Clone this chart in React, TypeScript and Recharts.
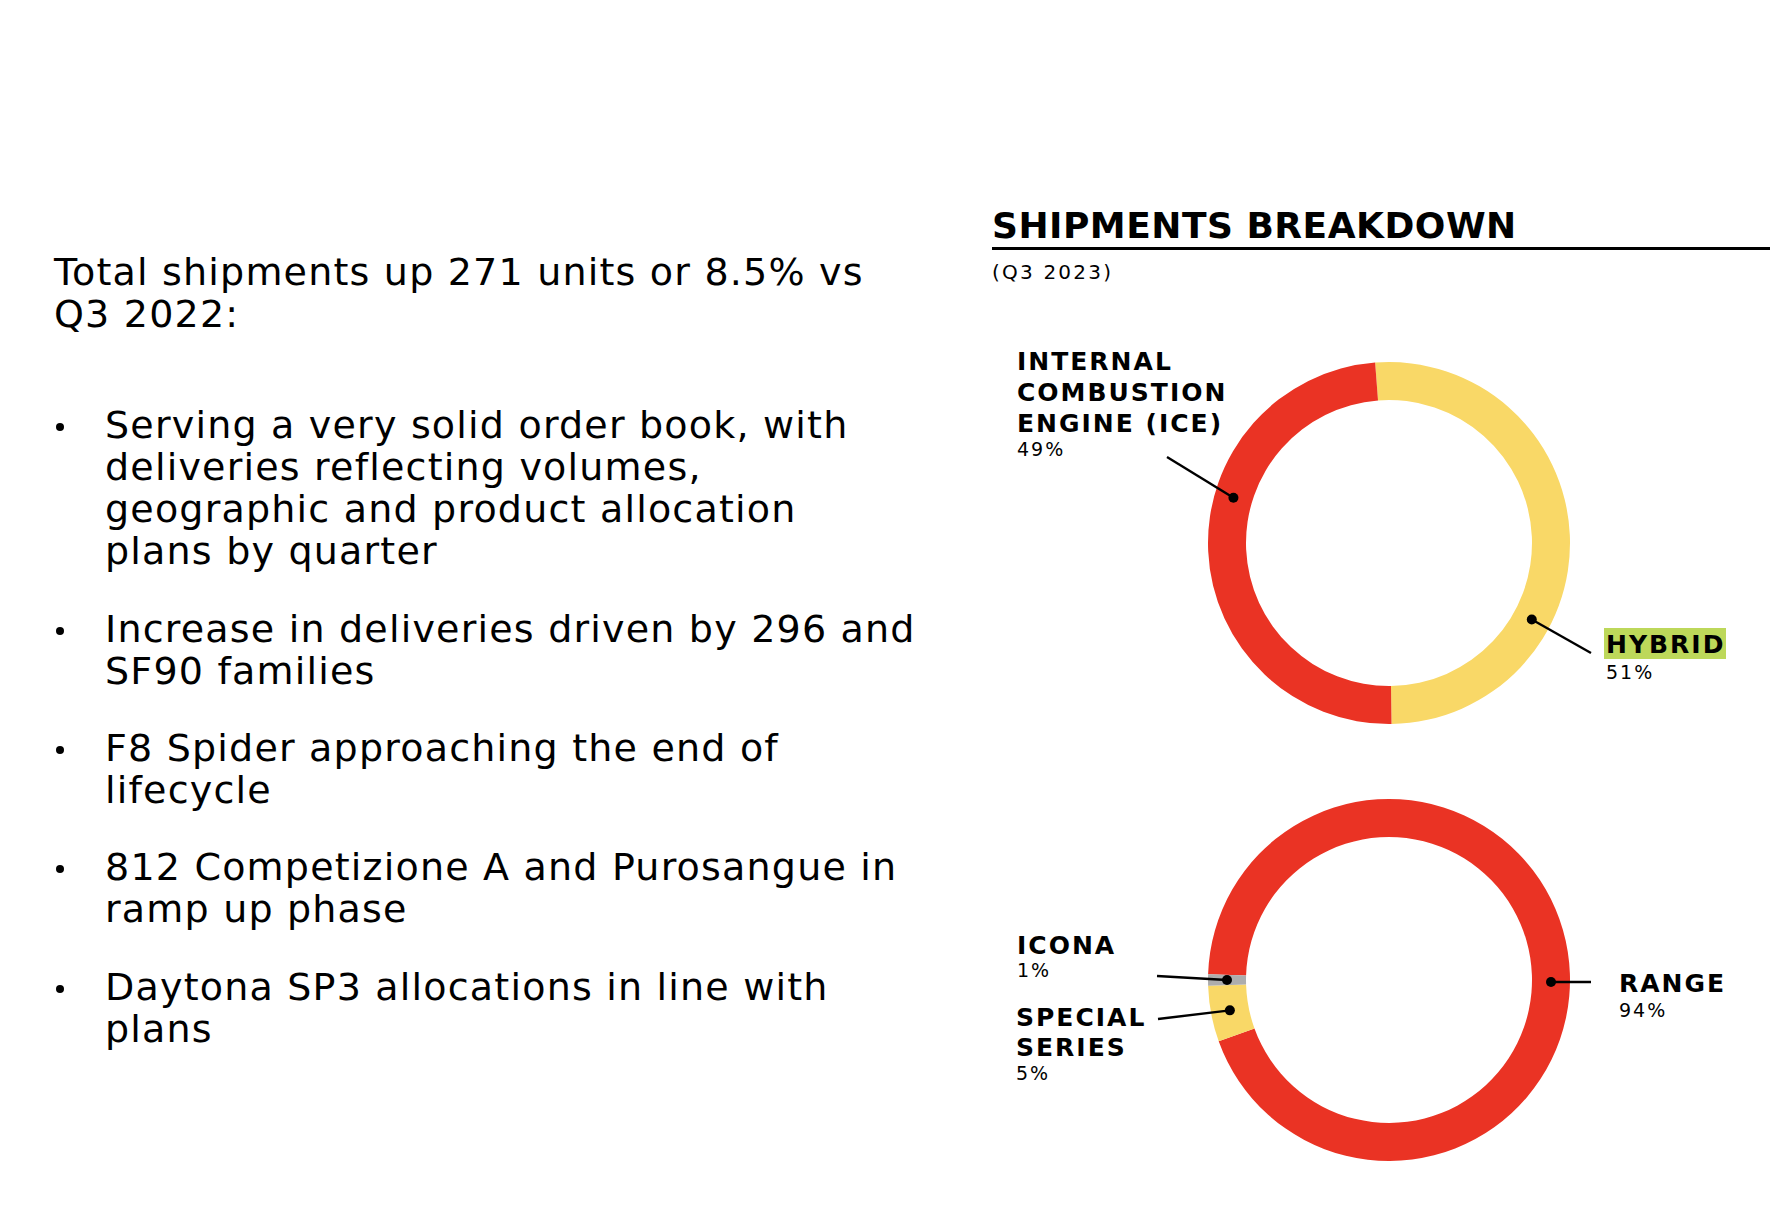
import React from 'react';
import { PieChart, Pie, Cell } from 'recharts';

// shares in % (Q3 2023)
const powertrainNames = ['HYBRID', 'INTERNAL\nCOMBUSTION\nENGINE (ICE)'];
const powertrainShares = [51, 49];
const powertrainColors = ['#F9D867', '#EA3324'];

const rangeNames = ['RANGE', 'SPECIAL\nSERIES', 'ICONA'];
const rangeShares = [94, 5, 1];
const rangeColors = ['#EA3324', '#F9D867', '#ADADAD'];

const title = 'SHIPMENTS BREAKDOWN';
const subtitle = '(Q3 2023)';

const introLines = ['Total shipments up 271 units or 8.5% vs', 'Q3 2022:'];
const bullets = [
  ['Serving a very solid order book, with', 'deliveries reflecting volumes,', 'geographic and product allocation', 'plans by quarter'],
  ['Increase in deliveries driven by 296 and', 'SF90 families'],
  ['F8 Spider approaching the end of', 'lifecycle'],
  ['812 Competizione A and Purosangue in', 'ramp up phase'],
  ['Daytona SP3 allocations in line with', 'plans'],
];

// layout only
const bulletTops = [404, 608, 727, 846, 966];
const FONT = '"DejaVu Sans", sans-serif';
const RAD = Math.PI / 180;

// offsets from the pie centre for each callout
const labelLayout = {
  HYBRID: { angle: -28.2, end: [202, 110], tx: 217, ty: 109.5, gap: 31, py: 135.5, box: [215, 85, 122, 31] },
  'INTERNAL\nCOMBUSTION\nENGINE (ICE)': { angle: 163.8, end: [-222, -86], tx: -372, ty: -173, gap: 31, py: -87.5 },
  RANGE: { angle: -0.7, end: [202, 2], tx: 230, ty: 12, gap: 30, py: 36.5 },
  'SPECIAL\nSERIES': { end: [-231, 39], tx: -373, ty: 46, gap: 30, py: 99.5 },
  ICONA: { end: [-232, -4], tx: -372, ty: -26, gap: 30, py: -3.5 },
};

const makeLabel = (names, shares) => (props) => {
  const { cx, cy, innerRadius, outerRadius, midAngle, index } = props;
  const name = names[index];
  const lay = labelLayout[name];
  const a = (lay.angle ?? midAngle) * RAD;
  const r = (innerRadius + outerRadius) / 2;
  const dx = cx + r * Math.cos(a);
  const dy = cy - r * Math.sin(a);
  const lines = name.split('\n');
  return (
    <g key={name}>
      <line x1={dx} y1={dy} x2={cx + lay.end[0]} y2={cy + lay.end[1]} stroke="#000" strokeWidth={2.4} />
      <circle cx={dx} cy={dy} r={5} fill="#000" />
      {lay.box && (
        <rect x={cx + lay.box[0]} y={cy + lay.box[1]} width={lay.box[2]} height={lay.box[3]} fill="#BDD85A" />
      )}
      {lines.map((l, i) => (
        <text key={l} x={cx + lay.tx} y={cy + lay.ty + i * lay.gap} fontFamily={FONT} fontSize={25}
              fontWeight={700} letterSpacing={2} fill="#000">{l}</text>
      ))}
      <text x={cx + lay.tx} y={cy + lay.py} fontFamily={FONT} fontSize={19} letterSpacing={2} fill="#000">
        {shares[index] + '%'}
      </text>
    </g>
  );
};

const powertrainData = powertrainNames.map((name, i) => ({ name, value: powertrainShares[i] }));
const rangeData = rangeNames.map((name, i) => ({ name, value: rangeShares[i] }));

export default function App() {
  return (
    <div style={{ position: 'absolute', left: 0, top: 0, width: 1770, height: 1226, background: '#fff',
                  overflow: 'hidden', fontFamily: FONT, color: '#000' }}>
      <div style={{ position: 'absolute', left: 54, top: 250.6, fontSize: 38, lineHeight: '42px', letterSpacing: 1.2,
                    whiteSpace: 'pre' }}>
        {introLines.map(l => <div key={l}>{l}</div>)}
      </div>
      {bullets.map((lines, i) => (
        <div key={i} style={{ position: 'absolute', left: 105, top: bulletTops[i], fontSize: 38,
                              lineHeight: '42px', letterSpacing: 1.2, whiteSpace: 'pre' }}>
          <span style={{ position: 'absolute', left: -49, top: 18.5, width: 8, height: 8, borderRadius: 4, background: '#000' }} />
          {lines.map(l => <div key={l}>{l}</div>)}
        </div>
      ))}

      <div style={{ position: 'absolute', left: 992, top: 207.5, fontSize: 36, lineHeight: '36px', fontWeight: 700,
                    letterSpacing: 0.5, whiteSpace: 'pre' }}>{title}</div>
      <div style={{ position: 'absolute', left: 992, top: 247, width: 778, height: 3, background: '#000' }} />
      <div style={{ position: 'absolute', left: 992, top: 261.5, fontSize: 20, lineHeight: '20px', letterSpacing: 2.2,
                    whiteSpace: 'pre' }}>{subtitle}</div>

      <div style={{ position: 'absolute', left: 0, top: 0 }}>
        <PieChart width={1770} height={1226} margin={{ top: 0, right: 0, bottom: 0, left: 0 }}>
          <Pie data={powertrainData} dataKey="value" nameKey="name" cx={1389} cy={543}
               innerRadius={143} outerRadius={181} startAngle={94.4} endAngle={-265.6}
               stroke="none" labelLine={false} label={makeLabel(powertrainNames, powertrainShares)}
               isAnimationActive={false}>
            {powertrainData.map((d, i) => <Cell key={d.name} fill={powertrainColors[i]} />)}
          </Pie>
          <Pie data={rangeData} dataKey="value" nameKey="name" cx={1389} cy={980}
               innerRadius={143} outerRadius={181} startAngle={-181.8} endAngle={-541.8}
               stroke="none" labelLine={false} label={makeLabel(rangeNames, rangeShares)}
               isAnimationActive={false}>
            {rangeData.map((d, i) => <Cell key={d.name} fill={rangeColors[i]} />)}
          </Pie>
        </PieChart>
      </div>
    </div>
  );
}
